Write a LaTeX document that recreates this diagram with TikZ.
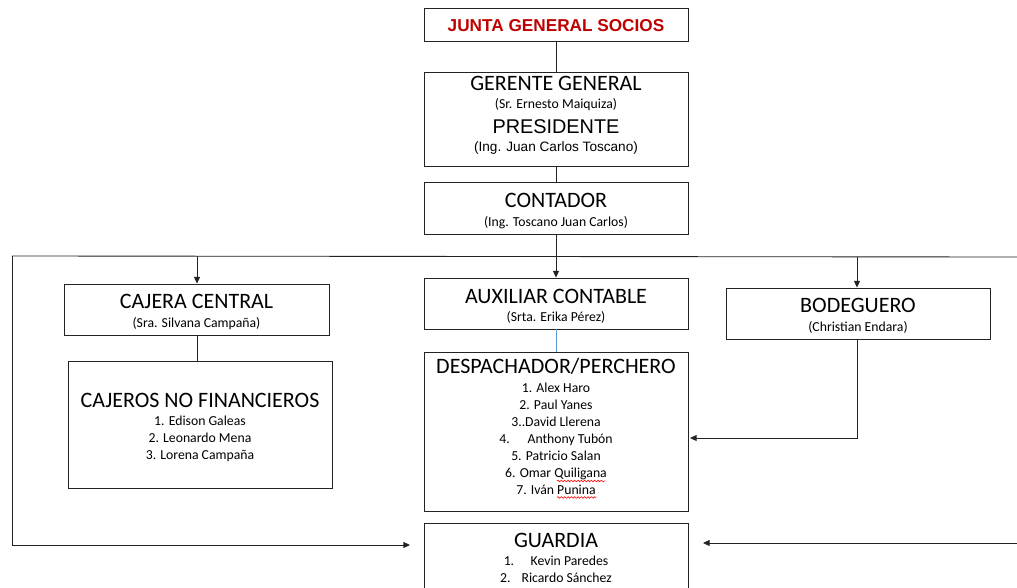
\documentclass[tikz,border=0pt]{standalone}
\usepackage{fontspec}
\setmainfont{Carlito}
\newfontfamily\arialf{Liberation Sans}
\usetikzlibrary{arrows.meta,decorations.pathmorphing}
\definecolor{jred}{RGB}{192,0,0}
\definecolor{lblue}{RGB}{91,155,213}
\definecolor{ln}{RGB}{35,35,35}
\tikzset{
  box/.style={draw=ln, line width=0.65pt, rectangle, inner sep=0pt, minimum width=264*0.75pt},
  conn/.style={draw=ln, line width=0.65pt},
  arr/.style={conn, -{Triangle[length=5pt,width=4.5pt]}},
  ttl/.style={anchor=base, inner sep=0pt, font=\fontsize{16.5}{18}\selectfont},
  sub/.style={anchor=base, inner sep=0pt, font=\fontsize{10.3}{12}\selectfont},
  lst/.style={anchor=north, inner sep=0pt, align=center, font=\fontsize{10.3}{12.75}\selectfont},
  squig/.style={draw=red, line width=0.45pt, decorate, decoration={snake, amplitude=0.6pt, segment length=2.5pt}}
}
\begin{document}
\begin{tikzpicture}[x=0.75pt, y=-0.75pt]
\useasboundingbox (0,0) rectangle (1017,588);
\fill[white] (0,0) rectangle (1017,588);
\clip (0,0) rectangle (1017,588);

% boxes
\node[box, minimum height=33*0.75pt] (junta) at (556,24.5) {};
\node[box, minimum height=94*0.75pt] (ger) at (556,119) {};
\node[box, minimum height=52*0.75pt] (cont) at (556,208) {};
\node[box, minimum width=265*0.75pt, minimum height=51*0.75pt] (caj) at (196.5,309.5) {};
\node[box, minimum height=127*0.75pt] (cajn) at (200,424.5) {};
\node[box, minimum height=51*0.75pt] (aux) at (556,303.5) {};
\node[box, minimum height=159*0.75pt] (desp) at (556,431.5) {};
\node[box, minimum height=51*0.75pt] (bod) at (858,313.5) {};
\node[box, minimum height=70*0.75pt] (guard) at (556,558) {};

% texts
\node[anchor=base, inner sep=0pt, text=jred, font=\arialf\bfseries\fontsize{12.9}{15}\selectfont] (tjunta) at (556,32) {JUNTA GENERAL SOCIOS};
\node[ttl] (tger) at (556,91) {GERENTE GENERAL};
\node[sub] (sger) at (556,109) {(Sr. Ernesto Maiquiza)};
\node[anchor=base, inner sep=0pt, font=\arialf\fontsize{14.9}{17}\selectfont] (tpres) at (556,134) {PRESIDENTE};
\node[anchor=base, inner sep=0pt, font=\arialf\fontsize{10.2}{12}\selectfont] (spres) at (556,152) {(Ing. Juan Carlos Toscano)};
\node[ttl] (tcont) at (556,208) {CONTADOR};
\node[sub] (scont) at (556,226) {(Ing. Toscano Juan Carlos)};
\node[ttl] (tcaj) at (196.5,308) {CAJERA CENTRAL};
\node[sub] (scaj) at (196.5,327) {(Sra. Silvana Campaña)};
\node[ttl] (taux) at (556,303) {AUXILIAR CONTABLE};
\node[sub] (saux) at (556,321) {(Srta. Erika Pérez)};
\node[ttl] (tbod) at (858,312.5) {BODEGUERO};
\node[sub] (sbod) at (858,331) {(Christian Endara)};
\node[ttl] (tcajn) at (200,407) {CAJEROS NO FINANCIEROS};
\node[lst] (lcajn) at (200,416) {1. Edison Galeas\\2. Leonardo Mena\\3. Lorena Campaña};
\node[ttl] (tdesp) at (556,373) {DESPACHADOR/PERCHERO};
\node[lst] (ldesp) at (556,382.5) {1. Alex Haro\\2. Paul Yanes\\3..David Llerena\\4.\hspace{1.3em}Anthony Tubón\\5. Patricio Salan\\6. Omar Quiligana\\7. Iván Punina};
\node[ttl] (tguard) at (556,547) {GUARDIA};
\node[lst] (lguard) at (556,556) {1.\hspace{1.2em}Kevin Paredes\\2.\hspace{0.8em}Ricardo Sánchez};

% spell-check marks
\draw[squig] (557,481) -- (605,481);
\draw[squig] (557,497.5) -- (596,497.5);

% coordinates
\coordinate (busL) at (12,256);
\coordinate (busR) at (1017,257);
\coordinate (busC) at (197,256);
\coordinate (busB) at (857,257);
\coordinate (guardIn) at (410,545);
\coordinate (rightIn) at (1017,543);
\coordinate (guardInR) at (703,543);
\coordinate (despIn) at (690,438);

% connectors
\draw[conn] (junta.south) -- (ger.north);
\draw[conn] (ger.south) -- (cont.north);
\draw[arr] (cont.south) -- (aux.north);
\draw[conn] (busR) -- (busL);
\draw[arr] (busL) |- (guardIn);
\draw[arr] (busC) -- (busC |- caj.north);
\draw[arr] (busB) -- (busB |- bod.north);
\draw[conn] (busC |- caj.south) -- (busC |- cajn.north);
\draw[draw=lblue, line width=0.6pt] (aux.south) -- (desp.north);
\draw[arr] (busB |- bod.south) |- (despIn);
\draw[arr] (rightIn) -- (guardInR);
\end{tikzpicture}
\end{document}
